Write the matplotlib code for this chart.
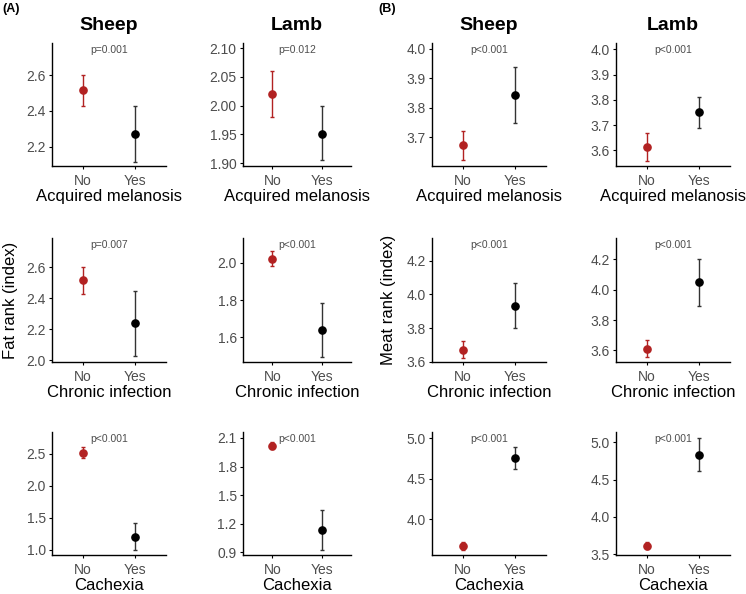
import matplotlib
matplotlib.use("Agg")
import matplotlib.pyplot as plt

plt.rcParams['font.family'] = ['Liberation Sans', 'DejaVu Sans']

# data
groups = ["No", "Yes"]
conditions = ["Acquired melanosis", "Chronic infection", "Cachexia"]

fat_sheep_mean = [[2.515, 2.270], [2.515, 2.238], [2.515, 1.200]]
fat_sheep_lo = [[2.430, 2.115], [2.430, 2.030], [2.430, 0.990]]
fat_sheep_hi = [[2.600, 2.425], [2.600, 2.445], [2.600, 1.420]]
fat_sheep_p = ["p=0.001", "p=0.007", "p<0.001"]

fat_lamb_mean = [[2.020, 1.951], [2.020, 1.640], [2.020, 1.130]]
fat_lamb_lo = [[1.980, 1.905], [1.980, 1.495], [1.980, 0.920]]
fat_lamb_hi = [[2.060, 1.999], [2.060, 1.785], [2.060, 1.345]]
fat_lamb_p = ["p=0.012", "p<0.001", "p<0.001"]

meat_sheep_mean = [[3.673, 3.843], [3.672, 3.932], [3.672, 4.755]]
meat_sheep_lo = [[3.622, 3.748], [3.622, 3.800], [3.622, 4.620]]
meat_sheep_hi = [[3.722, 3.938], [3.722, 4.065], [3.722, 4.890]]
meat_sheep_p = ["p<0.001", "p<0.001", "p<0.001"]

meat_lamb_mean = [[3.615, 3.750], [3.612, 4.050], [3.612, 4.835]]
meat_lamb_lo = [[3.558, 3.690], [3.558, 3.895], [3.565, 4.610]]
meat_lamb_hi = [[3.668, 3.810], [3.668, 4.200], [3.665, 5.060]]
meat_lamb_p = ["p<0.001", "p<0.001", "p<0.001"]

panels = [
    ("Sheep", fat_sheep_mean, fat_sheep_lo, fat_sheep_hi, fat_sheep_p),
    ("Lamb", fat_lamb_mean, fat_lamb_lo, fat_lamb_hi, fat_lamb_p),
    ("Sheep", meat_sheep_mean, meat_sheep_lo, meat_sheep_hi, meat_sheep_p),
    ("Lamb", meat_lamb_mean, meat_lamb_lo, meat_lamb_hi, meat_lamb_p),
]

# axis settings per column / row
yticks = [
    [[2.2, 2.4, 2.6], [2.0, 2.2, 2.4, 2.6], [1.0, 1.5, 2.0, 2.5]],
    [[1.90, 1.95, 2.00, 2.05, 2.10], [1.6, 1.8, 2.0], [0.9, 1.2, 1.5, 1.8, 2.1]],
    [[3.7, 3.8, 3.9, 4.0], [3.6, 3.8, 4.0, 4.2], [4.0, 4.5, 5.0]],
    [[3.6, 3.7, 3.8, 3.9, 4.0], [3.6, 3.8, 4.0, 4.2], [3.5, 4.0, 4.5, 5.0]],
]
ylims = [
    [(2.094, 2.778), (1.99, 2.788), (0.918, 2.84)],
    [(1.895, 2.109), (1.468, 2.132), (0.869, 2.163)],
    [(3.602, 4.02), (3.598, 4.335), (3.556, 5.077)],
    [(3.538, 4.025), (3.524, 4.34), (3.49, 5.137)],
]
ydec = [[1, 1, 1], [2, 1, 1], [1, 1, 1], [1, 1, 1]]

red = "#B22222"
grey = "#4D4D4D"

W, H = 746, 594
fig = plt.figure(figsize=(W / 100, H / 100), dpi=100)

col_left = [52, 243, 432, 616]
col_width = [114, 108, 114, 114]
row_top = [43, 238, 432]
row_bot = [166, 362, 555]

for c, (title, mean, lo, hi, pv) in enumerate(panels):
    for r in range(3):
        ax = fig.add_axes([col_left[c] / W, 1 - row_bot[r] / H,
                           col_width[c] / W, (row_bot[r] - row_top[r]) / H])
        for i, g in enumerate(groups):
            col = red if g == "No" else "black"
            ecol = red if g == "No" else "#333333"
            m = mean[r][i]
            ax.errorbar(i + 1, m, yerr=[[m - lo[r][i]], [hi[r][i] - m]],
                        fmt='o', color=col, ecolor=ecol, elinewidth=1.0,
                        capsize=1.5, capthick=1.0, markersize=5.2)
        ax.text(1.5, 0.94, pv[r], transform=ax.get_xaxis_transform(),
                ha='center', va='center', fontsize=7.5, color=grey)
        ax.set_xlim(0.4, 2.6)
        ax.set_xticks([1, 2])
        ax.set_xticklabels(groups)
        ax.set_ylim(*ylims[c][r])
        ax.set_yticks(yticks[c][r])
        ax.set_yticklabels([f"{t:.{ydec[c][r]}f}" for t in yticks[c][r]])
        ax.tick_params(colors=grey, labelsize=10, length=2.5, width=0.8, pad=2)
        ax.tick_params(axis='x', pad=3)
        ax.tick_params(axis='both', color='black')
        for s in ['top', 'right']:
            ax.spines[s].set_visible(False)
        for s in ['left', 'bottom']:
            ax.spines[s].set_linewidth(1.0)
        ax.set_xlabel(conditions[r], fontsize=12, labelpad=1)
        if r == 0:
            ax.set_title(title, fontsize=14, fontweight='bold', pad=9)
        if r == 1 and c == 0:
            ax.set_ylabel("Fat rank (index)", fontsize=12)
            ax.yaxis.set_label_coords(-0.30, 0.5)
        if r == 1 and c == 2:
            ax.set_ylabel("Meat rank (index)", fontsize=12)
            ax.yaxis.set_label_coords(-0.32, 0.5)

fig.text(2 / W, 1 - 9 / H, "(A)", fontsize=9, fontweight='bold', va='center', ha='left')
fig.text(378 / W, 1 - 9 / H, "(B)", fontsize=9, fontweight='bold', va='center', ha='left')

fig.savefig("out.png", dpi=100)
